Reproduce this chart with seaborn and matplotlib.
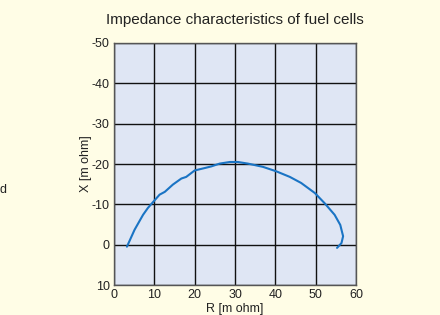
import numpy as np
import pandas as pd
import matplotlib
import matplotlib.pyplot as plt
import seaborn as sns

matplotlib.use('Agg')

# Impedance curve (R, X in m ohm)
r_vals = [3.2, 5.1, 7.2, 8.4, 9.8, 11.3, 12.6, 14.6, 16.7, 17.9, 20.0, 22.5, 24.1,
          26.2, 28.7, 30.7, 33.2, 36.9, 40.2, 43.6, 46.4, 49.8, 52.2, 54.7, 56.1,
          56.8, 56.4, 55.3]
x_vals = [0.5, -3.7, -7.4, -9.1, -10.7, -12.4, -13.1, -14.9, -16.4, -16.8, -18.4, -19.0,
          -19.4, -20.1, -20.5, -20.5, -20.1, -19.3, -18.2, -16.8, -15.3, -12.8, -10.3,
          -7.4, -4.9, -2.1, -0.4, 0.8]
x_ticks = [0, 10, 20, 30, 40, 50, 60]
y_ticks = [-50, -40, -30, -20, -10, 0, 10]

df = pd.DataFrame({"R": r_vals, "X": x_vals})

sns.set_style("white", {"axes.facecolor": "#dfe6f4", "figure.facecolor": "#fffde6"})
plt.rcParams['font.family'] = ['Liberation Sans', 'DejaVu Sans']
plt.rcParams['axes.unicode_minus'] = False

fig = plt.figure(figsize=(4.4, 3.15), dpi=100)
ax = fig.add_axes([0.2591, 0.0952, 0.55, 0.7683])

sns.lineplot(data=df, x="R", y="X", sort=False, estimator=None, color="#1a74c4", linewidth=1.5, ax=ax)

ax.set_xlim(0, 60)
ax.set_ylim(10, -50)
ax.set_xticks(x_ticks)
ax.set_yticks(y_ticks)
ax.grid(True, color="#111111", linewidth=1.0)
ax.set_axisbelow(True)
ax.tick_params(length=0, labelsize=9, pad=3, colors="#222222")
for s in ax.spines.values():
    s.set_color("#555555")
    s.set_linewidth(1.0)

ax.set_xlabel("R [m ohm]", fontsize=9, labelpad=1, color="#222222")
ax.set_ylabel("X [m ohm]", fontsize=9, labelpad=0, color="#222222")
ax.set_title("Impedance characteristics of fuel cells", fontsize=11, pad=14, color="#222222")

fig.text(0, 1 - 190 / 315, "d", ha="left", va="center", fontsize=9, color="#222222")

plt.savefig("out.png", dpi=100)
plt.close()
